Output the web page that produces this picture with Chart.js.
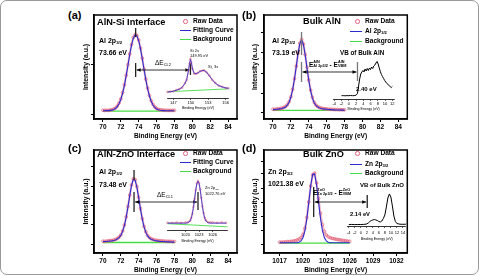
<!DOCTYPE html>
<html>
<head>
<meta charset="utf-8">
<script src="https://cdn.jsdelivr.net/npm/chart.js@4.4.1/dist/chart.umd.min.js"></script>
<style>
html, body { margin: 0; padding: 0; background: #fff; }
body { width: 480px; height: 276px; position: relative; overflow: hidden;
       font-family: "Liberation Sans", Arial, sans-serif; font-weight: bold; color: #000; }
#frame { position: absolute; left: 0; top: 0; width: 477px; height: 273px; border: 1px solid #9a9a9a; border-radius: 7px; }
canvas { position: absolute; }
.t { position: absolute; white-space: nowrap; line-height: 1; transform: translateY(-50%); }
.n { font-weight: normal; }
sub { font-size: 62%; vertical-align: -0.25em; line-height: 0; }
.ss { display: inline-flex; flex-direction: column; font-size: 58%; line-height: 1.05; vertical-align: middle; }
.ll { position: absolute; height: 0; border-top: 1.3px solid; }
.dot { position: absolute; width: 2.6px; height: 2.6px; border: 0.8px solid #e2607a; border-radius: 50%; }
</style>
</head>
<body>
<div id="frame"></div>

<canvas id="ca" width="160" height="140" style="left:82px;top:0px"></canvas>
<canvas id="cb" width="161" height="140" style="left:251px;top:0px"></canvas>
<canvas id="cc" width="160" height="138" style="left:82px;top:136px"></canvas>
<canvas id="cd" width="161" height="138" style="left:251px;top:136px"></canvas>
<canvas id="ia" width="70" height="58" style="left:163px;top:52px"></canvas>
<canvas id="ib" width="63" height="59" style="left:332px;top:52px"></canvas>
<canvas id="ic" width="69" height="70" style="left:163px;top:173px"></canvas>
<canvas id="id" width="62" height="54" style="left:345px;top:187px"></canvas>

<!-- (a) -->
<div class="t" style="left:68px;top:15px;font-size:11px">(a)</div>
<div class="t" style="left:97px;top:23px;font-size:9.2px">AlN-Si Interface</div>
<div class="dot" style="left:183px;top:19px"></div>
<div class="t" style="left:193px;top:21px;font-size:6.6px">Raw Data</div>
<div class="ll" style="left:180px;top:30px;width:11px;color:#2a2ad0"></div>
<div class="t" style="left:193px;top:30px;font-size:6.6px">Fitting Curve</div>
<div class="ll" style="left:180px;top:39px;width:11px;color:#44dd44"></div>
<div class="t" style="left:193px;top:39px;font-size:6.6px">Background</div>
<div class="t" style="left:99px;top:40px;font-size:7px">Al 2p<sub>3/2</sub></div>
<div class="t" style="left:99px;top:52px;font-size:7px">73.66 eV</div>
<div class="t n" style="left:155px;top:63px;font-size:6.5px">&Delta;E<sub>CL2</sub></div>
<div class="t n" style="left:190px;top:51px;font-size:4px">Si 2s</div>
<div class="t n" style="left:190px;top:56px;font-size:4px">149.95 eV</div>
<div class="t n" style="left:208px;top:67px;font-size:4px">Si<sub>x</sub> 3s</div>

<!-- (b) -->
<div class="t" style="left:242px;top:15px;font-size:11px">(b)</div>
<div class="t" style="left:303px;top:22px;font-size:9.2px">Bulk AlN</div>
<div class="dot" style="left:355px;top:19px"></div>
<div class="t" style="left:365px;top:21px;font-size:6.6px">Raw Data</div>
<div class="ll" style="left:350px;top:31px;width:12px;color:#2a2ad0"></div>
<div class="t" style="left:365px;top:31px;font-size:6.6px">Al 2p<sub>3/2</sub></div>
<div class="ll" style="left:350px;top:41px;width:12px;color:#44dd44"></div>
<div class="t" style="left:365px;top:41px;font-size:6.6px">Background</div>
<div class="t" style="left:272px;top:40px;font-size:7px">Al 2p<sub>3/2</sub></div>
<div class="t" style="left:272px;top:52px;font-size:7px">73.19 eV</div>
<div class="t" style="left:309px;top:65px;font-size:6.5px">E<span class="ss"><span>AlN</span><span>Al 2p3/2</span></span> - E<span class="ss"><span>AlN</span><span>VBM</span></span></div>
<div class="t" style="left:340px;top:53px;font-size:6.3px">VB of Bulk AlN</div>
<div class="t" style="left:356px;top:89px;font-size:6px">2.40 eV</div>

<!-- (c) -->
<div class="t" style="left:68px;top:148px;font-size:11px">(c)</div>
<div class="t" style="left:97px;top:155px;font-size:9.2px">AlN-ZnO Interface</div>
<div class="dot" style="left:183px;top:151px"></div>
<div class="t" style="left:193px;top:153px;font-size:6.6px">Raw Data</div>
<div class="ll" style="left:180px;top:162px;width:11px;color:#2a2ad0"></div>
<div class="t" style="left:193px;top:162px;font-size:6.6px">Fitting Curve</div>
<div class="ll" style="left:180px;top:171px;width:11px;color:#44dd44"></div>
<div class="t" style="left:193px;top:171px;font-size:6.6px">Background</div>
<div class="t" style="left:99px;top:171px;font-size:7px">Al 2p<sub>3/2</sub></div>
<div class="t" style="left:99px;top:184px;font-size:7px">73.48 eV</div>
<div class="t n" style="left:157px;top:195px;font-size:6.5px">&Delta;E<sub>CL1</sub></div>
<div class="t n" style="left:205px;top:188px;font-size:4px">Zn 2p<sub>3/2</sub></div>
<div class="t n" style="left:205px;top:194px;font-size:4px">1022.76 eV</div>

<!-- (d) -->
<div class="t" style="left:242px;top:148px;font-size:11px">(d)</div>
<div class="t" style="left:303px;top:155px;font-size:9.2px">Bulk ZnO</div>
<div class="dot" style="left:355px;top:151px"></div>
<div class="t" style="left:365px;top:153px;font-size:6.6px">Raw Data</div>
<div class="ll" style="left:350px;top:164px;width:12px;color:#2a2ad0"></div>
<div class="t" style="left:365px;top:164px;font-size:6.6px">Zn 2p<sub>3/2</sub></div>
<div class="ll" style="left:350px;top:173px;width:12px;color:#44dd44"></div>
<div class="t" style="left:365px;top:173px;font-size:6.6px">Background</div>
<div class="t" style="left:268px;top:171px;font-size:7px">Zn 2p<sub>3/2</sub></div>
<div class="t" style="left:268px;top:183px;font-size:7px">1021.38 eV</div>
<div class="t" style="left:313px;top:193px;font-size:6.5px">E<span class="ss"><span>ZnO</span><span>Zn 2p3/2</span></span> - E<span class="ss"><span>ZnO</span><span>VBM</span></span></div>
<div class="t" style="left:360px;top:185px;font-size:6px">VB of Bulk ZnO</div>
<div class="t" style="left:350px;top:215px;font-size:5.8px">2.14 eV</div>

<script>
// Al 2p core level grid (eV)
const alX = [70, 70.2, 70.4, 70.6, 70.8, 71, 71.2, 71.4, 71.6, 71.8, 72, 72.2, 72.4, 72.6, 72.8, 73, 73.2, 73.4, 73.6, 73.8,
    74, 74.2, 74.4, 74.6, 74.8, 75, 75.2, 75.4, 75.6, 75.8, 76, 76.2, 76.4, 76.6, 76.8, 77, 77.2, 77.4, 77.6, 77.8, 78];

// (a) AlN-Si interface
const aFit = [8.0, 8.0, 8.05, 8.1, 8.3, 8.5, 9.1, 10.1, 11.9, 14.7, 18.8, 24.7, 32.3, 41.5, 51.7, 62.0, 71.1, 77.7, 80.8, 80.0,
    75.4, 67.7, 58.0, 47.6, 37.7, 29.1, 22.1, 17.0, 13.4, 11.1, 9.6, 8.8, 8.4, 8.2, 8.1, 8.0, 8.0, 8.0, 8.0, 8.0, 8.0];
const aRaw = [8.4, 8.2, 8.5, 8.3, 8.6, 8.9, 9.6, 10.6, 12.4, 15.3, 19.2, 25.3, 32.8, 42.0, 52.3, 62.5, 71.6, 78.4, 81.2, 80.4,
    75.9, 68.1, 58.5, 48.0, 38.2, 29.6, 22.6, 17.5, 14.0, 11.6, 10.2, 9.3, 8.9, 8.6, 8.5, 8.3, 8.4, 8.2, 8.3, 8.2, 8.4];
const aBg = [7.5, 7.5];

// (b) bulk AlN
const bFit = [9.0, 9.1, 9.3, 9.5, 9.7, 10.1, 10.7, 11.6, 13.2, 16.1, 20.9, 28.2, 38.2, 50.4, 62.8, 72.5, 76.0, 71.7, 61.6, 49.1,
    37.1, 27.3, 20.3, 15.7, 13.0, 11.5, 10.6, 10.1, 9.7, 9.5, 9.3, 9.1, 9.0, 8.9, 8.8, 8.7, 8.6, 8.6, 8.5, 8.5, 8.5];
const bRaw = [9.4, 9.3, 9.6, 9.8, 10.0, 10.4, 11.0, 12.0, 13.6, 16.5, 21.3, 28.6, 38.7, 50.8, 63.3, 73.0, 76.5, 72.2, 62.0, 49.6,
    37.5, 27.8, 20.8, 16.1, 13.4, 11.9, 11.0, 10.5, 10.1, 9.8, 9.7, 9.4, 9.4, 9.2, 9.2, 9.0, 9.1, 8.9, 9.0, 8.8, 8.9];
const bBg = [8.2, 8.2];

// (c) AlN-ZnO interface
const cFit = [11.0, 11.1, 11.2, 11.4, 11.6, 11.8, 12.2, 12.7, 13.5, 14.9, 17.1, 20.9, 26.6, 34.6, 44.7, 55.7, 65.6, 71.4, 70.8, 63.9,
    53.5, 42.6, 32.9, 25.3, 20.0, 16.6, 14.5, 13.3, 12.6, 12.1, 11.8, 11.5, 11.3, 11.2, 11.1, 10.9, 10.8, 10.8, 10.7, 10.6, 10.6];
const cRaw = [11.4, 11.3, 11.6, 11.7, 12.0, 12.1, 12.6, 13.1, 14.0, 15.4, 17.6, 21.4, 27.1, 35.1, 45.2, 56.2, 66.1, 72.0, 71.3, 64.4,
    54.0, 43.1, 33.4, 25.8, 20.5, 17.1, 15.0, 13.8, 13.1, 12.6, 12.3, 12.0, 11.8, 11.7, 11.6, 11.4, 11.3, 11.3, 11.2, 11.1, 11.1];
const cBg = [10.2, 10.2];

// (d) bulk ZnO, Zn 2p3/2
const znX = [1017, 1017.25, 1017.5, 1017.75, 1018, 1018.25, 1018.5, 1018.75, 1019, 1019.25, 1019.5, 1019.75, 1020, 1020.25,
    1020.5, 1020.75, 1021, 1021.25, 1021.5, 1021.75, 1022, 1022.25, 1022.5, 1022.75, 1023, 1023.25, 1023.5, 1023.75,
    1024, 1024.25, 1024.5, 1024.75, 1025, 1025.25, 1025.5, 1025.75, 1026];
const dFit = [10.0, 10.0, 10.0, 10.0, 10.0, 10.0, 10.0, 10.0, 10.0, 10.1, 10.5, 11.7, 14.8, 21.5, 33.2, 49.2, 65.6, 76.4, 76.7,
    66.2, 49.9, 33.8, 21.9, 15.0, 11.8, 10.5, 10.1, 10.0, 10.0, 10.0, 10.0, 10.0, 10.0, 10.0, 10.0, 10.0, 10.0];
const dRaw = [10.5, 10.6, 10.7, 10.8, 11.0, 11.1, 11.3, 11.6, 12.0, 12.6, 13.5, 15.0, 18.0, 24.0, 34.5, 49.5, 65.0, 76.0, 77.5,
    68.0, 53.0, 38.5, 27.5, 21.0, 17.5, 15.8, 14.8, 14.2, 13.8, 13.4, 13.0, 12.7, 12.4, 12.1, 11.8, 11.5, 11.3];
const dBg = [9.6, 9.6];

// insets
const siX = [146, 146.5, 147, 147.5, 148, 148.5, 149, 149.3, 149.6, 149.8, 149.95, 150.1, 150.3, 150.6, 150.9, 151.2,
    151.6, 152, 152.3, 152.7, 153.2, 153.7, 154.2, 154.8, 155.4, 156, 156.5];
const siFit = [14.0, 15.1, 16.3, 18.6, 20.9, 25.6, 34.9, 44.2, 65.1, 83.7, 93.0, 86.0, 69.8, 59.3, 58.1, 60.5,
    64.0, 66.3, 66.3, 62.8, 53.5, 44.2, 36.0, 30.2, 26.7, 24.4, 23.3];
const siRaw = [14.8, 15.5, 16.0, 19.2, 21.4, 25.0, 35.6, 43.5, 66.0, 83.0, 93.8, 85.2, 70.5, 58.6, 58.8, 60.0,
    64.7, 65.8, 66.9, 62.2, 54.1, 43.6, 36.6, 29.7, 27.2, 24.0, 23.8];
const siBgX = [146, 156.5];
const siBg = [15.1, 22.1];

const vbAlnX = [-2, -1.5, -1, -0.5, 0, 0.5, 1, 1.5, 2, 2.4, 2.7, 3, 3.3, 3.6, 3.9, 4.2, 4.5, 4.8, 5.1, 5.4, 5.7, 6,
    6.3, 6.6, 6.9, 7.2, 7.5, 7.8, 8.1, 8.4, 8.7, 9, 9.3, 9.6, 9.9, 10.2, 10.5, 10.8, 11.1, 11.4, 11.7, 12];
const vbAlnY = [7.5, 7.7, 7.3, 7.7, 7.5, 8.0, 7.5, 7.7, 8.6, 12.5, 29.5, 45.5, 56.8, 61.4, 64.8, 61.4, 68.2, 63.6, 69.3, 64.8,
    70.5, 67.0, 72.7, 69.3, 75.0, 77.3, 81.8, 85.2, 79.5, 70.5, 62.5, 55.7, 51.1, 46.6, 42.0, 38.6, 35.2, 33.0, 30.7, 28.4, 26.1, 28.4];

const zn2pX = [1016, 1017, 1018, 1019, 1020, 1020.5, 1021, 1021.25, 1021.5, 1021.75, 1022, 1022.25, 1022.5, 1022.75,
    1023, 1023.25, 1023.5, 1023.75, 1024, 1024.25, 1024.5, 1025, 1025.5, 1026, 1027, 1028, 1029];
const zn2pFit = [13.0, 13.0, 13.0, 13.0, 13.1, 13.6, 17.0, 21.9, 30.3, 42.9, 58.8, 75.2, 88.0, 93.0,
    88.7, 76.5, 60.2, 44.1, 31.2, 22.4, 17.3, 13.6, 13.1, 13.0, 13.0, 13.0, 13.0];
const zn2pRaw = [14.0, 13.6, 14.2, 13.8, 14.3, 14.8, 18.0, 23.0, 31.0, 43.8, 59.5, 75.8, 88.6, 93.5,
    89.2, 77.2, 61.0, 45.0, 32.3, 23.6, 18.6, 14.9, 14.4, 14.6, 13.9, 14.5, 13.7];
const zn2pBgX = [1016, 1029.3];
const zn2pBg = [12, 6];

const vbZnX = [-4, -3, -2, -1, 0, 1, 2, 2.5, 3, 3.5, 4, 4.5, 5, 5.5, 6, 6.5, 7, 7.5, 8, 8.5, 9, 9.5, 10, 10.5, 11, 11.5, 12, 13, 14, 15];
const vbZnY = [3.9, 4.4, 3.9, 4.2, 4.2, 4.4, 5.6, 8.3, 12.5, 15.3, 16.7, 18.1, 16.7, 15.3, 12.5, 11.1, 13.9, 20.8, 30.6, 52.8,
    77.8, 88.9, 80.6, 55.6, 27.8, 12.5, 6.9, 5.0, 4.7, 5.0];

// tick values
const alTicks = [70, 72, 74, 76, 78, 80, 82, 84];
const znTicks = [1017, 1020, 1023, 1026, 1029, 1032];
const siTicks = [147, 150, 153, 156];
const vbAlnTicks = [-4, -2, 0, 2, 4, 6, 8, 10, 12];
const zn2pTicks = [1020, 1023, 1026];
const vbZnTicks = [-4, -2, 0, 2, 4, 6, 8, 10, 12, 14];
const yTicksA = [4, 52];
const yTicksB = [5.8, 25, 44.2, 63.5, 82.7];
const yTicksC = [8.7, 27.2, 46.6, 65.0, 83.5];
const yTicksD = [8.7, 22.3, 35.9, 49.5, 63.1, 76.7, 89.3];

const BLUE = '#2a2ad0', GREEN = '#44dd44';

function fnt(size, weight) {
    return { family: '"Liberation Sans", Arial, sans-serif', size: size, weight: weight || 'bold' };
}

function pts(xs, ys) {
    return xs.map((x, i) => ({ x: x, y: ys[i] }));
}

function peakSets(xs, fit, raw, bgX, bg) {
    return [
        { data: pts(xs, fit), showLine: true, borderColor: BLUE, borderWidth: 1.1, pointRadius: 0, clip: false },
        { data: pts(xs, raw), showLine: true, borderColor: 'rgba(236,120,140,0.5)', borderWidth: 2.2,
          pointRadius: 1.4, pointBorderColor: '#e2607a', pointBackgroundColor: 'rgba(255,255,255,0)',
          pointBorderWidth: 0.7, clip: false },
        { data: pts(bgX, bg), showLine: true, borderColor: GREEN, borderWidth: 1.3, pointRadius: 0, clip: false }
    ];
}

// 箭頭與標記線
function makeFrame(ann, inset) {
    return {
        id: 'frame',
        afterDraw(chart) {
            const a = chart.chartArea, ctx = chart.ctx;
            ctx.save();
            ctx.strokeStyle = '#000';
            ctx.lineWidth = 1.5;
            ctx.strokeRect(a.left, a.top, a.right - a.left, a.bottom - a.top);

            const xs = chart.scales.x, ys = chart.scales.y;
            const x1 = xs.getPixelForValue(ann.peak);
            const x2 = inset.canvas.offsetLeft - chart.canvas.offsetLeft + inset.scales.x.getPixelForValue(ann.target);
            const yA = ys.getPixelForValue(ann.arrowY);

            ctx.strokeStyle = ann.color;
            ctx.lineWidth = 1.3;
            const vline = (x, r) => {
                ctx.beginPath();
                ctx.moveTo(x, ys.getPixelForValue(r[0]));
                ctx.lineTo(x, ys.getPixelForValue(r[1]));
                ctx.stroke();
            };
            if (ann.peakLine) vline(x1, ann.peakLine);
            vline(x1, ann.leftTick);
            vline(x2, ann.rightTick);

            ctx.strokeStyle = '#000';
            ctx.fillStyle = '#000';
            ctx.lineWidth = 0.8;
            ctx.beginPath();
            ctx.moveTo(x1 + 1, yA);
            ctx.lineTo(x2 - 1, yA);
            ctx.stroke();
            const head = (x, dir) => {
                ctx.beginPath();
                ctx.moveTo(x, yA);
                ctx.lineTo(x - dir * 4, yA - 1.8);
                ctx.lineTo(x - dir * 4, yA + 1.8);
                ctx.closePath();
                ctx.fill();
            };
            head(x1 + 1, -1);
            head(x2 - 1, 1);
            ctx.restore();
        }
    };
}

function insetChart(id, sets, min, max, ticks, axisH, pad) {
    return new Chart(document.getElementById(id), {
        type: 'scatter',
        data: { datasets: sets },
        options: {
            responsive: false, animation: false, devicePixelRatio: 1, events: [],
            layout: { padding: { top: 3, left: 0, right: 0, bottom: 0 } },
            plugins: { legend: { display: false }, tooltip: { enabled: false } },
            scales: {
                x: {
                    type: 'linear', min: min, max: max,
                    afterBuildTicks: s => { s.ticks = ticks.map(v => ({ value: v })); },
                    ticks: { font: fnt(4, 'normal'), color: '#000', padding: pad, maxRotation: 0, autoSkip: false,
                             callback: v => String(v) },
                    grid: { drawOnChartArea: false, tickLength: 2, color: '#000', lineWidth: 0.6 },
                    border: { color: '#000', width: 0.8 },
                    title: { display: true, text: 'Binding Energy (eV)', font: fnt(3.6, 'normal'), color: '#000', padding: 0 },
                    afterFit: s => { s.height = axisH; }
                },
                y: { display: false, min: 0, max: 100 }
            }
        }
    });
}

function mainChart(id, sets, min, max, ticks, yTicks, top, right, yw, ann, inset) {
    return new Chart(document.getElementById(id), {
        type: 'scatter',
        data: { datasets: sets },
        options: {
            responsive: false, animation: false, devicePixelRatio: 1, events: [],
            layout: { padding: { top: top, right: right, left: 0, bottom: 0 } },
            plugins: { legend: { display: false }, tooltip: { enabled: false } },
            scales: {
                x: {
                    type: 'linear', min: min, max: max,
                    afterBuildTicks: s => { s.ticks = ticks.map(v => ({ value: v })); },
                    ticks: { font: fnt(6.5), color: '#000', padding: 1, maxRotation: 0, autoSkip: false,
                             callback: v => String(v) },
                    grid: { drawOnChartArea: false, tickLength: 3, color: '#000', lineWidth: 1 },
                    border: { color: '#000', width: 1.5 },
                    title: { display: true, text: 'Binding Energy (eV)', font: fnt(6.6), color: '#000', padding: 0 },
                    afterFit: s => { s.height = 21; }
                },
                y: {
                    min: 0, max: 100,
                    afterBuildTicks: s => { s.ticks = yTicks.map(v => ({ value: v })); },
                    ticks: { display: false },
                    grid: { drawOnChartArea: false, tickLength: 3, color: '#000', lineWidth: 1 },
                    border: { color: '#000', width: 1.5 },
                    title: { display: true, text: 'Intensity (a.u.)', font: fnt(6.8), color: '#000', padding: 0 },
                    afterFit: s => { s.width = yw; }
                }
            }
        },
        plugins: [makeFrame(ann, inset)]
    });
}

// insets first, the main panels point their arrows at them
const insetA = insetChart('ia', [
    { data: pts(siX, siFit), showLine: true, borderColor: BLUE, borderWidth: 0.8, pointRadius: 0, clip: false },
    { data: pts(siX, siRaw), showLine: true, borderColor: 'rgba(236,120,140,0.55)', borderWidth: 1.4, pointRadius: 0.9,
      pointBorderColor: '#e2607a', pointBackgroundColor: 'rgba(255,255,255,0)', pointBorderWidth: 0.5, clip: false },
    { data: pts(siBgX, siBg), showLine: true, borderColor: GREEN, borderWidth: 0.9, pointRadius: 0, clip: false }
], 146, 156.5, siTicks, 12, 0.5);

const insetB = insetChart('ib', [
    { data: pts(vbAlnX, vbAlnY), showLine: true, borderColor: '#000', borderWidth: 1, pointRadius: 0, clip: false }
], -4.3, 12.5, vbAlnTicks, 12, 0.5);

const insetC = insetChart('ic', [
    { data: pts(zn2pX, zn2pFit), showLine: true, borderColor: BLUE, borderWidth: 0.8, pointRadius: 0, clip: false },
    { data: pts(zn2pX, zn2pRaw), showLine: true, borderColor: 'rgba(236,120,140,0.55)', borderWidth: 1.4, pointRadius: 0.9,
      pointBorderColor: '#e2607a', pointBackgroundColor: 'rgba(255,255,255,0)', pointBorderWidth: 0.5, clip: false },
    { data: pts(zn2pBgX, zn2pBg), showLine: true, borderColor: GREEN, borderWidth: 0.9, pointRadius: 0, clip: false }
], 1016, 1029.3, zn2pTicks, 13, 0.5);

const insetD = insetChart('id', [
    { data: pts(vbZnX, vbZnY), showLine: true, borderColor: '#000', borderWidth: 1, pointRadius: 0, clip: false }
], -4.3, 14.9, vbZnTicks, 15, 2);

mainChart('ca', peakSets(alX, aFit, aRaw, [70, 78], aBg), 69, 85, alTicks, yTicksA, 15, 5, 12,
    { peak: 73.66, target: 149.95, arrowY: 47.1, peakLine: [78.8, 87.5], leftTick: [40.4, 53.8], rightTick: [42.3, 53.8], color: '#222' },
    insetA);
mainChart('cb', peakSets(alX, bFit, bRaw, [70, 78], bBg), 69, 85, alTicks, yTicksB, 15, 4, 13,
    { peak: 73.19, target: 2.40, arrowY: 45.2, peakLine: [61.5, 83.7], leftTick: [35.6, 54.8], rightTick: [36.5, 54.8], color: '#777' },
    insetB);
mainChart('cc', peakSets(alX, cFit, cRaw, [70, 78], cBg), 69, 85, alTicks, yTicksC, 14, 5, 12,
    { peak: 73.48, target: 1022.76, arrowY: 49.5, peakLine: [70.9, 80.6], leftTick: [39.8, 59.2], rightTick: [41.7, 59.2], color: '#222' },
    insetC);
mainChart('cd', peakSets(znX, dFit, dRaw, [1017, 1026], dBg), 1015, 1033.4, znTicks, yTicksD, 14, 4, 13,
    { peak: 1021.38, target: 2.14, arrowY: 49.5, peakLine: null, leftTick: [35.0, 64.1], rightTick: [43.7, 56.3], color: '#222' },
    insetD);
</script>
</body>
</html>
